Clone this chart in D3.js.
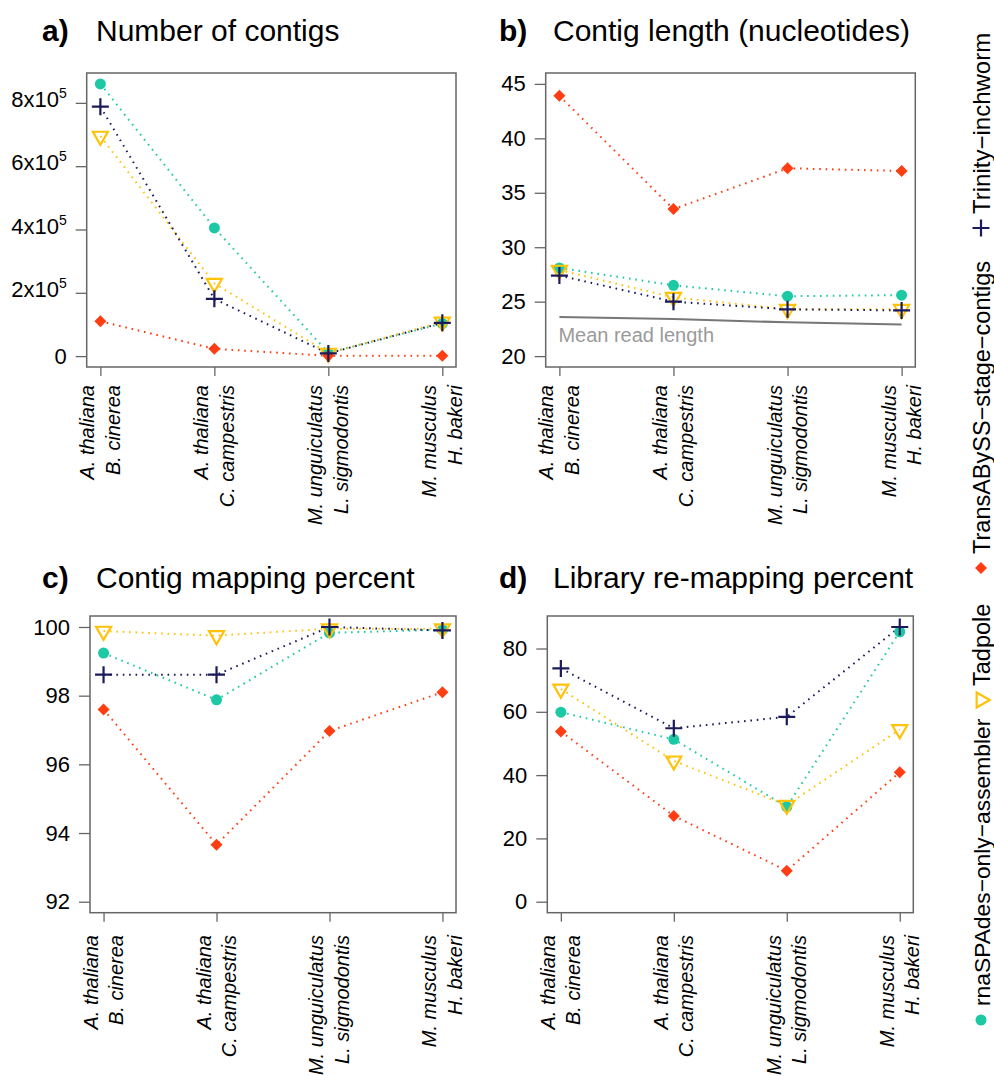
<!DOCTYPE html>
<html>
<head>
<meta charset="utf-8">
<script src="https://cdn.jsdelivr.net/npm/d3@7"></script>
<style>
body {
  margin: 0;
  background: #fff;
}
svg text {
  font-family: "Liberation Sans", Arial, Helvetica, sans-serif;
}
</style>
</head>
<body>
<div id="plot"></div>

<script>
// x categories (two lines each)
var speciesTop = ["A. thaliana", "A. thaliana", "M. unguiculatus", "M. musculus"];
var speciesBottom = ["B. cinerea", "C. campestris", "L. sigmodontis", "H. bakeri"];

var assemblers = ["rnaSPAdes\u2212only\u2212assembler", "Tadpole", "TransABySS\u2212stage\u2212contigs", "Trinity\u2212inchworm"];

// a) number of contigs
var countRnaspades  = [860000, 405000, 10500, 103000];
var countTadpole    = [695000, 230000, 9500, 108000];
var countTransabyss = [110000, 23000, 1000, 800];
var countTrinity    = [788000, 181000, 8500, 105000];

// b) contig length
var lengthRnaspades  = [28.1, 26.5, 25.5, 25.6];
var lengthTadpole    = [27.9, 25.4, 24.3, 24.3];
var lengthTransabyss = [43.9, 33.5, 37.25, 37.0];
var lengthTrinity    = [27.4, 25.0, 24.3, 24.2];
var meanReadLength   = [23.6, 23.4, 23.1, 22.9];

// c) contig mapping percent
var mapRnaspades  = [99.24, 97.88, 99.83, 99.92];
var mapTadpole    = [99.88, 99.75, 99.95, 99.95];
var mapTransabyss = [97.6, 93.66, 96.97, 98.1];
var mapTrinity    = [98.61, 98.61, 100.0, 99.9];

// d) library re-mapping percent
var remapRnaspades  = [59.9, 51.3, 30.0, 85.3];
var remapTadpole    = [67.2, 44.5, 30.5, 54.4];
var remapTransabyss = [53.8, 27.1, 9.8, 40.9];
var remapTrinity    = [73.7, 54.8, 58.4, 86.8];

// tick values
var ticksA = [0, 200000, 400000, 600000, 800000];
var ticksB = [20, 25, 30, 35, 40, 45];
var ticksC = [92, 94, 96, 98, 100];
var ticksD = [0, 20, 40, 60, 80];

var colors = ["#1cc9a4", "#ffc20a", "#ff3d12", "#1b1b5c"];
var shapes = ["circle", "triangle", "diamond", "plus"];
// draw order: teal, yellow, red, navy

var width = 994, height = 1076;

var svg = d3.select("#plot")
  .append("svg")
  .attr("width", width)
  .attr("height", height);

// R style 4% axis extension
function pad(r) {
  var d = (r[1] - r[0]) * 0.04;
  return [r[0] - d, r[1] + d];
}

function drawMarker(g, shape, color, cx, cy) {
  if (shape == "circle") {
    g.append("circle").attr("cx", cx).attr("cy", cy).attr("r", 5.5)
      .style("fill", color);
  } else if (shape == "triangle") {
    var r = 8.7;
    var pts = [[cx - r * 0.866, cy - r / 2], [cx + r * 0.866, cy - r / 2], [cx, cy + r]];
    g.append("path").attr("d", "M" + pts.join("L") + "Z")
      .style("fill", "none").style("stroke", color).style("stroke-width", 2.2)
      .style("stroke-linejoin", "miter");
  } else if (shape == "diamond") {
    var s = 6;
    g.append("path")
      .attr("d", "M" + cx + "," + (cy - s) + "L" + (cx + s) + "," + cy + "L" + cx + "," + (cy + s) + "L" + (cx - s) + "," + cy + "Z")
      .style("fill", color);
  } else {
    var h = 8.5;
    g.append("path")
      .attr("d", "M" + (cx - h) + "," + cy + "H" + (cx + h) + "M" + cx + "," + (cy - h) + "V" + (cy + h))
      .style("stroke", color).style("stroke-width", 2.2);
  }
}

function drawPanel(p) {
  var x = d3.scaleLinear().domain(pad([1, 4])).range([p.left, p.right]);
  var y = d3.scaleLinear().domain(pad(p.ylim)).range([p.bottom, p.top]);

  var g = svg.append("g");

  // title
  g.append("text")
    .attr("x", p.tagX).attr("y", p.titleY)
    .style("font-size", "30px").style("font-weight", "bold")
    .text(p.tag);
  g.append("text")
    .attr("x", p.tagX + 54).attr("y", p.titleY)
    .style("font-size", "30px")
    .text(p.title);

  // y axis
  var yAxis = d3.axisLeft(y)
    .tickValues(p.ticks)
    .tickSize(11)
    .tickPadding(9)
    .tickFormat(function(d) { return d; });

  var ya = g.append("g")
    .attr("transform", "translate(" + p.left + ",0)")
    .call(yAxis);
  ya.select(".domain").remove();
  ya.selectAll(".tick line").style("stroke", "#666").style("stroke-width", 1.3);
  ya.selectAll(".tick text")
    .style("font-size", "22px").style("fill", "#000")
    .style("font-family", "'Liberation Sans', Arial, sans-serif")
    .each(function(d) {
      if (p.sci && d > 0) {
        var t = d3.select(this);
        t.text("").attr("dy", "0.16em");
        t.append("tspan").text((d / 100000) + "x10");
        t.append("tspan").attr("dy", -9).style("font-size", "14px").text("5");
      }
    });

  // x axis
  var xAxis = d3.axisBottom(x)
    .tickValues([1, 2, 3, 4])
    .tickSize(9)
    .tickFormat("");
  var xa = g.append("g")
    .attr("transform", "translate(0," + p.bottom + ")")
    .call(xAxis);
  xa.select(".domain").remove();
  xa.selectAll(".tick line").style("stroke", "#666").style("stroke-width", 1.3);

  [1, 2, 3, 4].forEach(function(v, i) {
    var lab = g.append("text")
      .attr("transform", "translate(" + x(v) + "," + p.labelY + ") rotate(-90)")
      .style("font-size", "20px").style("font-style", "italic")
      .attr("text-anchor", "end");
    lab.append("tspan").attr("x", 0).attr("y", -6).text(speciesTop[i]);
    lab.append("tspan").attr("x", 0).attr("y", 19.5).text(speciesBottom[i]);
  });

  // box
  g.append("rect")
    .attr("x", p.left).attr("y", p.top)
    .attr("width", p.right - p.left).attr("height", p.bottom - p.top)
    .style("fill", "none").style("stroke", "#666").style("stroke-width", 1.5);

  // reference line (panel b)
  if (p.refLine) {
    var ref = p.refLine.map(function(v, i) { return [x(i + 1), y(v)]; });
    g.append("path").attr("d", d3.line()(ref))
      .style("fill", "none").style("stroke", "#777").style("stroke-width", 2);
    g.append("text")
      .attr("x", x(1) - 1).attr("y", y(p.refLine[0]) + 25.5)
      .style("font-size", "20px").style("fill", "#9a9a9a")
      .text("Mean read length");
  }

  var line = d3.line()
    .x(function(d, i) { return x(i + 1); })
    .y(function(d) { return y(d); });

  p.series.forEach(function(s, k) {
    g.append("path").attr("d", line(s))
      .style("fill", "none").style("stroke", colors[k])
      .style("stroke-width", 2).style("stroke-dasharray", "1.6,4.8");
  });
  p.series.forEach(function(s, k) {
    s.forEach(function(v, i) {
      drawMarker(g, shapes[k], colors[k], x(i + 1), y(v));
    });
  });
}

drawPanel({
  tag: "a)", title: "Number of contigs", tagX: 42, titleY: 40.5,
  left: 86.7, right: 456, top: 73, bottom: 367, labelY: 385,
  ylim: [0, 860000], ticks: ticksA, sci: true,
  series: [countRnaspades, countTadpole, countTransabyss, countTrinity]
});

drawPanel({
  tag: "b)", title: "Contig length (nucleotides)", tagX: 499, titleY: 40.5,
  left: 545.7, right: 915.3, top: 73, bottom: 367, labelY: 385,
  ylim: [20, 45], ticks: ticksB, refLine: meanReadLength,
  series: [lengthRnaspades, lengthTadpole, lengthTransabyss, lengthTrinity]
});

drawPanel({
  tag: "c)", title: "Contig mapping percent", tagX: 42, titleY: 588,
  left: 90, right: 456, top: 616, bottom: 912.7, labelY: 935,
  ylim: [92, 100], ticks: ticksC,
  series: [mapRnaspades, mapTadpole, mapTransabyss, mapTrinity]
});

drawPanel({
  tag: "d)", title: "Library re-mapping percent", tagX: 499, titleY: 588,
  left: 547.3, right: 913.3, top: 616, bottom: 912.7, labelY: 935,
  ylim: [0, 86.8], ticks: ticksD,
  series: [remapRnaspades, remapTadpole, remapTransabyss, remapTrinity]
});

// legend, drawn horizontally then turned to read bottom to top
var legendY = [1020, 700, 568, 228];
var legendSize = ["22.8px", "23.5px", "23.5px", "24px"];
var legend = svg.append("g");
assemblers.forEach(function(name, k) {
  var item = legend.append("g")
    .attr("transform", "translate(981," + legendY[k] + ") rotate(-90)");
  drawMarker(item, shapes[k], colors[k], 0, 0);
  item.append("text")
    .attr("x", 14).attr("y", 9)
    .style("font-size", legendSize[k])
    .text(name);
});
</script>
</body>
</html>
